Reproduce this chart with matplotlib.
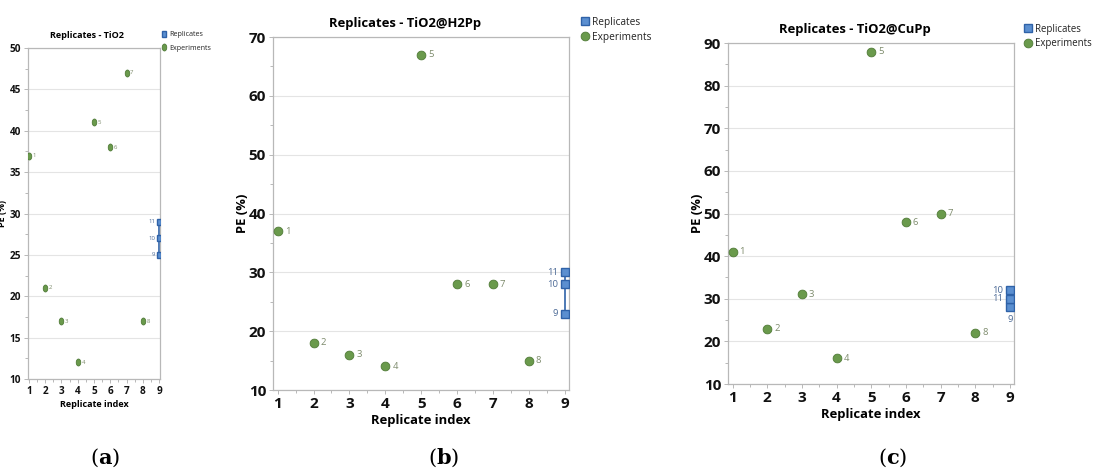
import matplotlib
matplotlib.use("Agg")
import matplotlib.pyplot as plt
from matplotlib.ticker import MultipleLocator
from matplotlib.markers import MarkerStyle
from matplotlib.transforms import Affine2D

plt.rcParams['font.family'] = ['Open Sans', 'DejaVu Sans']
plt.rcParams['mathtext.fontset'] = 'dejavuserif'

# replicate index values
exp_idx = [1, 2, 3, 4, 5, 6, 7, 8]
exp_labels = ['1', '2', '3', '4', '5', '6', '7', '8']
rep_idx = [9, 9, 9]
rep_labels = ['9', '10', '11']

# PE (%) per panel
a_exp = [37, 21, 17, 12, 41, 38, 47, 17]
a_rep = [25, 27, 29]
b_exp = [37, 18, 16, 14, 67, 28, 28, 15]
b_rep = [23, 28, 30]
c_exp = [41, 23, 31, 16, 88, 48, 50, 22]
c_rep = [28, 32, 30]

titles = ['Replicates - TiO2', 'Replicates - TiO2@H2Pp', 'Replicates - TiO2@CuPp']
captions = ['a', 'b', 'c']

green = '#6a9a4c'
green_edge = '#4f7a36'
blue = '#5b8fd0'
blue_edge = '#2f62a8'
spine_col = '#b8b8b8'

W, H = 1096, 471
fig = plt.figure(figsize=(W / 100, H / 100), dpi=100)


def px_axes(l, r, t, b):
    return fig.add_axes([l / W, 1 - b / H, (r - l) / W, (b - t) / H])


def panel(ax, exp, rep, title, xlim, ylim, ystep, fs, ms, rep_offsets,
          leg_anchor, squeeze=1.0, sizes=(0.85, 0.62, 0.66), lspace=0.4):
    fam = ['Open Sans', 'DejaVu Sans']
    tfs, lfs, gfs = [fs * k for k in sizes]
    ax.set_xlim(*xlim)
    ax.set_ylim(*ylim)
    ax.yaxis.set_major_locator(MultipleLocator(ystep))
    ax.yaxis.set_minor_locator(MultipleLocator(ystep / 2))
    ax.xaxis.set_major_locator(MultipleLocator(1))
    ax.xaxis.set_minor_locator(MultipleLocator(0.5))
    ax.grid(axis='y', which='major', color='#e4e4e4', lw=0.8)
    ax.set_axisbelow(True)
    for s in ax.spines.values():
        s.set_color(spine_col)
        s.set_linewidth(0.9)
    ax.tick_params(which='both', colors=spine_col, length=3, width=0.7,
                   labelcolor='#111111', pad=2)
    ax.tick_params(which='minor', length=2)
    for lab in ax.get_xticklabels() + ax.get_yticklabels():
        lab.set_fontweight('bold')
        lab.set_fontsize(fs)

    sq = MarkerStyle('s', transform=Affine2D().scale(squeeze, 1))
    dot = MarkerStyle('o', transform=Affine2D().scale(squeeze, 1))
    ax.vlines(9, min(rep), max(rep), color=blue_edge, lw=1.2, zorder=2)
    ax.plot(rep_idx, rep, ls='none', marker=sq, ms=ms * 0.85, mfc=blue,
            mec=blue_edge, mew=1, zorder=3, label='Replicates')
    ax.plot(exp_idx, exp, ls='none', marker=dot, ms=ms, mfc=green,
            mec=green_edge, mew=0.6, zorder=3, label='Experiments')
    for x, y, t in zip(exp_idx, exp, exp_labels):
        ax.annotate(t, (x, y), xytext=(ms * 0.8 * squeeze, 0),
                    textcoords='offset points', va='center', ha='left',
                    fontsize=lfs, color='#7d8b6c')
    for y, t, off in zip(rep, rep_labels, rep_offsets):
        ax.annotate(t, (9, y), xytext=off[:2], textcoords='offset points',
                    va='center', ha=off[2], fontsize=lfs, color='#4c6a96')

    ax.set_title(title, fontsize=tfs, fontweight='bold', pad=7, x=0.445)
    ax.set_xlabel('Replicate index', fontsize=tfs, fontweight='bold',
                  labelpad=2)
    ax.set_ylabel('PE (%)', fontsize=tfs, fontweight='bold', labelpad=0)
    leg = ax.legend(loc='upper left', bbox_to_anchor=leg_anchor, frameon=False,
                    handletextpad=0.35, handlelength=0.8, borderaxespad=0,
                    borderpad=0, labelspacing=lspace,
                    prop=dict(size=gfs, family=fam))
    for t in leg.get_texts():
        t.set_color('#222222')
    return ax


ax_a = px_axes(28, 160, 48, 379)
panel(ax_a, a_exp, a_rep, titles[0], (0.95, 9.05), (10, 50), 5, 7.2, 5,
      [(-3, 0, 'right'), (-3, 0, 'right'), (-3, 0, 'right')],
      (1.01, 1.05), squeeze=0.65, sizes=(0.9, 0.6, 0.72), lspace=0.9)
ax_a.yaxis.set_label_coords(-0.16, 0.5)

ax_b = px_axes(273, 569, 37, 390)
panel(ax_b, b_exp, b_rep, titles[1], (0.87, 9.12), (10, 70), 10, 11, 6.3,
      [(-5, 0, 'right'), (-5, 0, 'right'), (-5, 0, 'right')],
      (1.04, 1.057))

ax_c = px_axes(728, 1014, 43, 384)
panel(ax_c, c_exp, c_rep, titles[2], (0.87, 9.12), (10, 90), 10, 11, 6.3,
      [(0, -9, 'center'), (-5, 0, 'right'), (-5, 0, 'right')],
      (1.036, 1.057), sizes=(0.85, 0.62, 0.63))

for cx, cap in zip([105, 444, 893], captions):
    fig.text(cx / W, 1 - 458 / H, r'($\mathbf{' + cap + r'}$)',
             ha='center', va='center', fontsize=15, family='DejaVu Serif')

fig.savefig('out.png', dpi=100)
